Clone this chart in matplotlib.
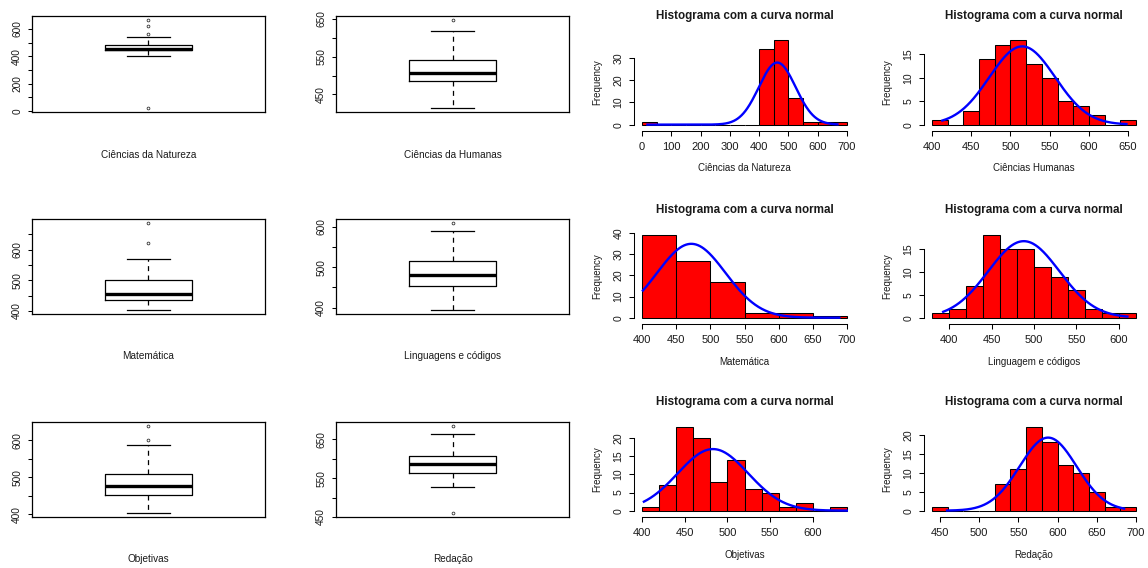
import numpy as np
import matplotlib
matplotlib.use("Agg")
import matplotlib.pyplot as plt

plt.rcParams['font.family'] = ['Liberation Sans', 'DejaVu Sans']
FAM = ['Liberation Sans', 'DejaVu Sans']

W, H = 1148, 568

# ---------------- Boxplot data ----------------
box_labels = ["Ciências da Natureza", "Ciências da Humanas", "Matemática",
              "Linguagens e códigos", "Objetivas", "Redação"]
box_whislo = [400, 413, 401, 393, 402, 528]
box_q1 = [442, 486, 435, 453, 452, 564]
box_med = [452, 507, 454, 481, 476, 585]
box_q3 = [485, 540, 500, 516, 510, 607]
box_whishi = [542, 618, 571, 588, 588, 662]
box_outliers = [[18, 565, 622, 668], [648], [622, 689], [610], [600, 640], [459, 685]]
box_ticks = [[0, 100, 200, 300, 400, 500, 600],
             [450, 500, 550, 600, 650],
             [400, 450, 500, 550, 600, 650],
             [400, 450, 500, 550, 600],
             [400, 450, 500, 550, 600],
             [450, 500, 550, 600, 650]]
box_tick_labels = [["0", "", "200", "", "400", "", "600"],
                   ["450", "", "550", "", "650"],
                   ["400", "", "500", "", "600", ""],
                   ["400", "", "500", "", "600"],
                   ["400", "", "500", "", "600"],
                   ["450", "", "550", "", "650"]]

# ---------------- Histogram data ----------------
hist_labels = ["Ciências da Natureza", "Ciências Humanas", "Matemática",
               "Linguagem e códigos", "Objetivas", "Redação"]
hist_title = "Histograma com a curva normal"
hist_start = [0, 400, 400, 380, 400, 440]
hist_width = [50, 20, 50, 20, 20, 20]
hist_counts = [
    [1, 0, 0, 0, 0, 0, 0, 0, 34, 38, 12, 1, 1, 1],
    [1, 0, 3, 14, 17, 18, 13, 10, 5, 4, 2, 0, 1],
    [39, 27, 17, 2, 2, 1],
    [1, 2, 7, 18, 15, 15, 11, 9, 6, 2, 1, 1],
    [1, 7, 23, 20, 8, 14, 6, 5, 1, 2, 0, 1],
    [1, 0, 0, 0, 7, 11, 22, 18, 12, 10, 5, 1, 1],
]
curve_mean = [462, 515, 472, 488, 483, 588]
curve_sd = [62.7, 42.0, 50.2, 42.0, 41.3, 36.4]
curve_from = [18, 413, 401, 393, 402, 459]
curve_to = [668, 648, 689, 610, 640, 685]
hist_xticks = [[0, 100, 200, 300, 400, 500, 600, 700],
               [400, 450, 500, 550, 600, 650],
               [400, 450, 500, 550, 600, 650, 700],
               [400, 450, 500, 550, 600],
               [400, 450, 500, 550, 600],
               [450, 500, 550, 600, 650, 700]]
hist_yticks = [[0, 10, 20, 30], [0, 5, 10, 15], [0, 10, 20, 30, 40],
               [0, 5, 10, 15], [0, 5, 10, 15, 20], [0, 5, 10, 15, 20]]

# ---------------- Layout (pixels) ----------------
box_cols = [(32, 265), (336, 569)]
box_rows = [(16, 112), (219, 314), (422, 517)]
box_xlab_y = [155, 356, 559]
hist_cols = [(634, 855), (924, 1144)]
hist_rows = [(37, 128), (232, 321), (424, 514)]
hist_xlab_y = [168, 362, 555]
hist_title_y = [16, 210, 402]
hist_ylab_x = [597, 887]

fig = plt.figure(figsize=(W / 100, H / 100), dpi=100)


def rect(x0, x1, y0, y1):
    return [x0 / W, 1 - y1 / H, (x1 - x0) / W, (y1 - y0) / H]


TXT = '#1a1a1a'

# ---- boxplots ----
for i in range(6):
    r, c = divmod(i, 2)
    x0, x1 = box_cols[c]
    y0, y1 = box_rows[r]
    ax = fig.add_axes(rect(x0, x1, y0, y1))
    stats = [dict(med=box_med[i], q1=box_q1[i], q3=box_q3[i],
                  whislo=box_whislo[i], whishi=box_whishi[i],
                  fliers=box_outliers[i])]
    ax.bxp(stats, positions=[1], widths=0.4, capwidths=0.2, showfliers=True,
           boxprops=dict(color='black', linewidth=0.9),
           whiskerprops=dict(color='black', linewidth=0.9, linestyle=(0, (4, 3.5))),
           capprops=dict(color='black', linewidth=0.9),
           medianprops=dict(color='black', linewidth=2.4, solid_capstyle='butt'),
           flierprops=dict(marker='o', markersize=2.0, markerfacecolor='none',
                           markeredgecolor='#333333', markeredgewidth=0.6))
    lo = min([box_whislo[i]] + box_outliers[i])
    hi = max([box_whishi[i]] + box_outliers[i])
    pad = 0.04 * (hi - lo)
    ax.set_ylim(lo - pad, hi + pad)
    ax.set_xlim(0.46, 1.54)
    ax.set_xticks([])
    ax.set_yticks(box_ticks[i])
    ax.set_yticklabels(box_tick_labels[i], rotation=90, va='center',
                       fontsize=7.3, color=TXT, fontfamily=FAM)
    ax.tick_params(axis='y', direction='out', length=3, width=0.75, pad=4)
    for s in ax.spines.values():
        s.set_linewidth(0.9)
    fig.text((x0 + x1) / 2 / W, 1 - box_xlab_y[r] / H, box_labels[i],
             ha='center', va='center', fontsize=7.2, color=TXT, fontfamily=FAM)

# ---- histograms ----
for i in range(6):
    r, c = divmod(i, 2)
    x0, x1 = hist_cols[c]
    y0, y1 = hist_rows[r]
    ax = fig.add_axes(rect(x0, x1, y0, y1))
    ax.spines['top'].set_visible(False)
    ax.spines['right'].set_visible(False)
    ax.spines['bottom'].set_position(('outward', 2))
    counts = np.array(hist_counts[i])
    bw = hist_width[i]
    edges = hist_start[i] + bw * np.arange(len(counts) + 1)
    ax.bar(edges[:-1], counts, width=bw, align='edge', color='#ff0000',
           edgecolor='black', linewidth=0.75)
    n = counts.sum()
    xs = np.linspace(curve_from[i], curve_to[i], 300)
    ys = n * bw * np.exp(-0.5 * ((xs - curve_mean[i]) / curve_sd[i]) ** 2) / (curve_sd[i] * np.sqrt(2 * np.pi))
    ax.plot(xs, ys, color='#0000ff', linewidth=1.7)
    b0, b1 = edges[0], edges[-1]
    px = 0.04 * (b1 - b0)
    ax.set_xlim(b0 - px, b1 + px)
    ymax = counts.max()
    ax.set_ylim(-0.04 * ymax, 1.04 * ymax)
    ax.set_xticks(hist_xticks[i])
    ax.set_xticklabels([str(t) for t in hist_xticks[i]], fontsize=8, color=TXT,
                       fontfamily=FAM)
    ax.set_yticks(hist_yticks[i])
    ax.set_yticklabels([str(t) for t in hist_yticks[i]], rotation=90, va='center',
                       fontsize=7.6, color=TXT, fontfamily=FAM)
    ax.tick_params(axis='both', direction='out', length=3.5, width=0.75)
    ax.tick_params(axis='x', pad=4.3)
    ax.tick_params(axis='y', pad=4)
    ax.spines['left'].set_bounds(hist_yticks[i][0], hist_yticks[i][-1])
    ax.spines['bottom'].set_bounds(hist_xticks[i][0], hist_xticks[i][-1])
    ax.spines['left'].set_linewidth(0.75)
    ax.spines['bottom'].set_linewidth(0.75)
    ax.patch.set_alpha(0)
    cx = (x0 + x1) / 2 / W
    fig.text(cx, 1 - hist_title_y[r] / H, hist_title, ha='center', va='center',
             fontsize=8.4, fontweight='bold', color=TXT, fontfamily=FAM)
    fig.text(cx, 1 - hist_xlab_y[r] / H, hist_labels[i], ha='center', va='center',
             fontsize=7, color=TXT, fontfamily=FAM)
    fig.text(hist_ylab_x[c] / W, 1 - (y0 + y1) / 2 / H, "Frequency", ha='center',
             va='center', rotation=90, fontsize=7, color=TXT, fontfamily=FAM)

fig.savefig("out.png", dpi=100)
